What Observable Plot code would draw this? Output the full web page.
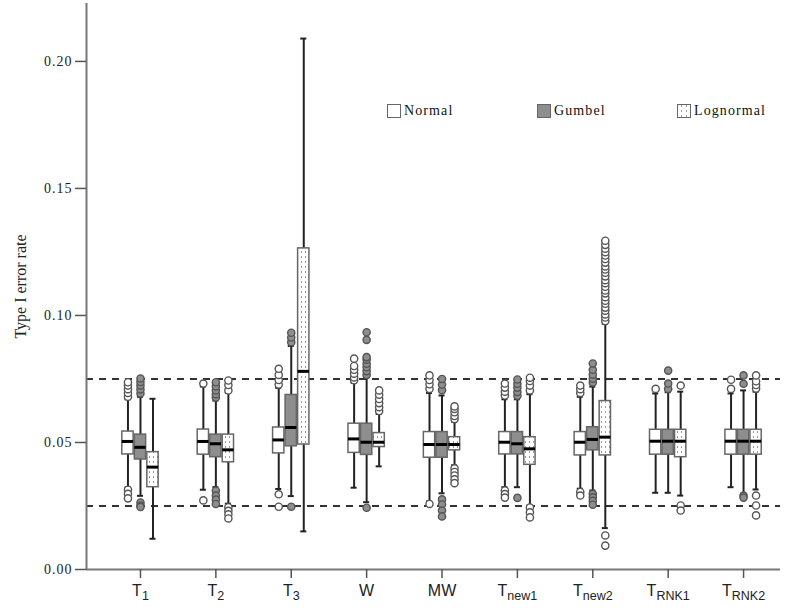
<!DOCTYPE html>
<html>
<head>
<meta charset="utf-8">
<script src="https://cdn.jsdelivr.net/npm/d3@7"></script>
<script src="https://cdn.jsdelivr.net/npm/@observablehq/plot@0.6"></script>
<style>
  body { margin: 0; background: #fff; }
  #wrap { position: relative; width: 787px; height: 612px; }
  #legend { position: absolute; top: 103px; left: 0; width: 787px; height: 18px; font-family: "Liberation Serif", "DejaVu Serif", serif; font-size: 14px; letter-spacing: 1.1px; color: #111; }
  .item { position: absolute; top: 0; display: flex; align-items: center; }
  .sw { width: 12px; height: 12px; border: 1px solid #666; margin-right: 3px; box-sizing: content-box; }
  svg .ytl text { font-family: "Liberation Serif", "DejaVu Serif", serif !important; letter-spacing: 1px; }
</style>
</head>
<body>
<div id="wrap">
  <div id="chart"></div>
  <div id="legend"></div>
</div>
<script>
// ---- data ----
const tests = ["T1", "T2", "T3", "W", "MW", "Tnew1", "Tnew2", "TRNK1", "TRNK2"];
const distributions = ["Normal", "Gumbel", "Lognormal"];
const yTicks = [0, 0.05, 0.10, 0.15, 0.20];
const referenceLines = [0.025, 0.075];

// per test: [Normal, Gumbel, Lognormal]
const whiskerLow = [
  [0.0323, 0.0290, 0.0121],
  [0.0314, 0.0324, 0.0259],
  [0.0317, 0.0289, 0.0150],
  [0.0322, 0.0265, 0.0406],
  [0.0268, 0.0300, 0.0410],
  [0.0324, 0.0324, 0.0252],
  [0.0318, 0.0311, 0.0163],
  [0.0302, 0.0302, 0.0291],
  [0.0324, 0.0298, 0.0315]
];
const q1Values = [
  [0.0453, 0.0433, 0.0324],
  [0.0452, 0.0442, 0.0422],
  [0.0457, 0.0485, 0.0492],
  [0.0459, 0.0451, 0.0482],
  [0.0440, 0.0440, 0.0469],
  [0.0453, 0.0453, 0.0412],
  [0.0449, 0.0469, 0.0449],
  [0.0452, 0.0452, 0.0442],
  [0.0452, 0.0452, 0.0452]
];
const medianValues = [
  [0.0504, 0.0481, 0.0403],
  [0.0504, 0.0495, 0.0471],
  [0.0510, 0.0559, 0.0780],
  [0.0514, 0.0501, 0.0501],
  [0.0492, 0.0492, 0.0492],
  [0.0501, 0.0495, 0.0475],
  [0.0501, 0.0512, 0.0521],
  [0.0505, 0.0505, 0.0505],
  [0.0505, 0.0505, 0.0505]
];
const q3Values = [
  [0.0543, 0.0531, 0.0462],
  [0.0551, 0.0531, 0.0531],
  [0.0559, 0.0687, 0.1264],
  [0.0574, 0.0574, 0.0537],
  [0.0541, 0.0541, 0.0521],
  [0.0541, 0.0541, 0.0521],
  [0.0541, 0.0560, 0.0663],
  [0.0550, 0.0550, 0.0550],
  [0.0550, 0.0550, 0.0550]
];
const whiskerHigh = [
  [0.0670, 0.0680, 0.0672],
  [0.0720, 0.0665, 0.0695],
  [0.0715, 0.0880, 0.2090],
  [0.0735, 0.0755, 0.0612],
  [0.0695, 0.0685, 0.0582],
  [0.0670, 0.0670, 0.0690],
  [0.0680, 0.0720, 0.0967],
  [0.0693, 0.0698, 0.0700],
  [0.0693, 0.0705, 0.0700]
];
const outlierValues = [
  [[0.0680, 0.0695, 0.0710, 0.0724, 0.0737, 0.0314, 0.0298, 0.0280],
   [0.0693, 0.0709, 0.0724, 0.0738, 0.0752, 0.0264, 0.0252, 0.0246],
   []],
  [[0.0732, 0.0272],
   [0.0677, 0.0690, 0.0705, 0.0721, 0.0737, 0.0310, 0.0291, 0.0275, 0.0258],
   [0.0705, 0.0726, 0.0744, 0.0245, 0.0231, 0.0217, 0.0201]],
  [[0.0728, 0.0746, 0.0766, 0.0790, 0.0296, 0.0247],
   [0.0895, 0.0913, 0.0932, 0.0247],
   []],
  [[0.0745, 0.0756, 0.0771, 0.0786, 0.0801, 0.0830],
   [0.0766, 0.0781, 0.0796, 0.0810, 0.0826, 0.0836, 0.0904, 0.0934, 0.0243],
   [0.0624, 0.0639, 0.0655, 0.0671, 0.0688, 0.0705]],
  [[0.0711, 0.0729, 0.0746, 0.0764, 0.0258],
   [0.0706, 0.0728, 0.0750, 0.0276, 0.0256, 0.0232, 0.0209],
   [0.0592, 0.0604, 0.0619, 0.0632, 0.0642, 0.0398, 0.0384, 0.0370, 0.0355, 0.0340]],
  [[0.0685, 0.0700, 0.0716, 0.0732, 0.0311, 0.0297, 0.0283],
   [0.0684, 0.0699, 0.0716, 0.0731, 0.0748, 0.0282],
   [0.0705, 0.0724, 0.0742, 0.0755, 0.0244, 0.0225, 0.0205]],
  [[0.0695, 0.0710, 0.0724, 0.0305, 0.0291],
   [0.0736, 0.0751, 0.0767, 0.0786, 0.0811, 0.0298, 0.0284, 0.0270, 0.0255],
   [0.0978, 0.0992, 0.1004, 0.1019, 0.1031, 0.1046, 0.1058, 0.1072, 0.1087, 0.1098, 0.1113, 0.1127,
    0.1139, 0.1154, 0.1168, 0.1181, 0.1193, 0.1208, 0.1222, 0.1236, 0.1249, 0.1263, 0.1278, 0.1294,
    0.0134, 0.0094]],
  [[0.0711],
   [0.0711, 0.0732, 0.0783],
   [0.0724, 0.0252, 0.0232]],
  [[0.0711, 0.0747],
   [0.0731, 0.0764, 0.0291, 0.0283],
   [0.0712, 0.0726, 0.0741, 0.0764, 0.0291, 0.0252, 0.0213]]
];

// ---- layout constants ----
const xDomain = [-0.716, 8.49];
const yDomain = [0, 0.2228];
const groupOffset = 0.166;   // distance between boxes of a group (x units)
const boxHalf = 0.075;       // half box width
const capHalf = 0.04;        // half whisker cap width
const fills = {Normal: "white", Gumbel: "#8e8e8e", Lognormal: "url(#lognormDots)"};
const dotFills = {Normal: "white", Gumbel: "#8e8e8e", Lognormal: "white"};

// ---- build tables ----
const boxes = [];
const outliers = [];
tests.forEach((t, i) => {
  distributions.forEach((dist, j) => {
    const cx = i + (j - 1) * groupOffset;
    boxes.push({
      test: t, dist, cx,
      lo: whiskerLow[i][j], q1: q1Values[i][j], med: medianValues[i][j],
      q3: q3Values[i][j], hi: whiskerHigh[i][j]
    });
    outlierValues[i][j].forEach(v => outliers.push({test: t, dist, cx, v}));
  });
});

const boxMarks = distributions.map(dist =>
  Plot.rect(boxes.filter(d => d.dist === dist), {
    x1: d => d.cx - boxHalf, x2: d => d.cx + boxHalf, y1: "q1", y2: "q3",
    fill: fills[dist], stroke: "#666", strokeWidth: 1.5
  })
);
const dotMarks = distributions.map(dist =>
  Plot.dot(outliers.filter(d => d.dist === dist), {
    x: "cx", y: "v", r: 3.6, fill: dotFills[dist], stroke: "#555", strokeWidth: 1.4
  })
);

const chart = Plot.plot({
  width: 787,
  height: 612,
  marginLeft: 86,
  marginRight: 7,
  marginTop: 3,
  marginBottom: 43,
  style: {background: "white", overflow: "visible"},
  x: {type: "linear", domain: xDomain},
  y: {domain: yDomain},
  marks: [
    Plot.ruleY(referenceLines, {stroke: "#333", strokeWidth: 2, strokeDasharray: "7,6"}),
    Plot.ruleX(boxes, {x: "cx", y1: "lo", y2: "hi", stroke: "#222", strokeWidth: 2}),
    Plot.ruleY(boxes, {y: "hi", x1: d => d.cx - capHalf, x2: d => d.cx + capHalf, stroke: "#222", strokeWidth: 2}),
    Plot.ruleY(boxes, {y: "lo", x1: d => d.cx - capHalf, x2: d => d.cx + capHalf, stroke: "#222", strokeWidth: 2}),
    ...boxMarks,
    Plot.ruleY(boxes, {y: "med", x1: d => d.cx - boxHalf, x2: d => d.cx + boxHalf, stroke: "#000", strokeWidth: 3}),
    ...dotMarks,
    Plot.ruleY([yDomain[0]], {stroke: "#777", strokeWidth: 2}),
    Plot.ruleX([xDomain[0]], {stroke: "#777", strokeWidth: 2}),
    Plot.axisY({
      ticks: yTicks, tickFormat: d3.format(".2f"), tickSize: 11, tickPadding: 3,
      stroke: "#555", strokeWidth: 1.5,
      fontSize: 14, fill: "#222", className: "ytl",
      label: "Type I error rate", labelAnchor: "center", labelArrow: "none", labelOffset: 72
    }),
    Plot.axisX({
      ticks: d3.range(tests.length), tickFormat: i => tests[i], tickSize: 9, tickPadding: 6,
      stroke: "#555", strokeWidth: 1.5,
      fontSize: 16, fontFamily: "Liberation Sans, Arial, sans-serif", fill: "#222", label: null
    })
  ]
});

// pattern for lognormal boxes
const svg = d3.select(chart.tagName === "svg" ? chart : chart.querySelector("svg"));
const defs = svg.insert("defs", ":first-child");
const pat = defs.append("pattern").attr("id", "lognormDots").attr("patternUnits", "userSpaceOnUse")
  .attr("width", 4).attr("height", 5);
pat.append("rect").attr("width", 4).attr("height", 5).attr("fill", "white");
pat.append("rect").attr("x", 1).attr("y", 1).attr("width", 1).attr("height", 2).attr("fill", "#9a9a9a");

// serif fonts on the y axis
svg.selectAll("g[aria-label='y-axis tick label'], g[aria-label='y-axis label']")
  .attr("font-family", "'Liberation Serif', 'DejaVu Serif', serif");
svg.selectAll("g[aria-label='y-axis tick label'] text")
  .style("font-family", "'Liberation Serif', 'DejaVu Serif', serif").style("letter-spacing", "1px");
svg.selectAll("g[aria-label='y-axis label'] text")
  .style("font-family", "'Liberation Serif', 'DejaVu Serif', serif").style("font-size", "16px");

// subscripts on x tick labels
svg.selectAll("g[aria-label='x-axis tick label'] text").each(function() {
  const el = d3.select(this);
  const s = el.text();
  if (s.length > 1 && s[0] === "T") {
    el.text("");
    el.append("tspan").text("T");
    el.append("tspan").attr("dy", "0.3em").style("font-size", "12.5px").text(s.slice(1));
  }
});

document.getElementById("chart").appendChild(chart);

// legend
const legend = document.getElementById("legend");
const legendX = [387, 537, 677];
distributions.forEach((dist, j) => {
  const item = document.createElement("div");
  item.className = "item";
  item.style.left = legendX[j] + "px";
  const sw = document.createElement("div");
  sw.className = "sw";
  if (dist === "Normal") sw.style.background = "white";
  else if (dist === "Gumbel") sw.style.background = "#8e8e8e";
  else sw.style.background = "repeating-linear-gradient(to bottom, #9a9a9a 0 2px, white 2px 5px) 3px 0 / 1px 100% no-repeat, repeating-linear-gradient(to bottom, #9a9a9a 0 2px, white 2px 5px) 8px 0 / 1px 100% no-repeat, white";
  const label = document.createElement("span");
  label.textContent = dist;
  item.appendChild(sw);
  item.appendChild(label);
  legend.appendChild(item);
});
</script>
</body>
</html>
